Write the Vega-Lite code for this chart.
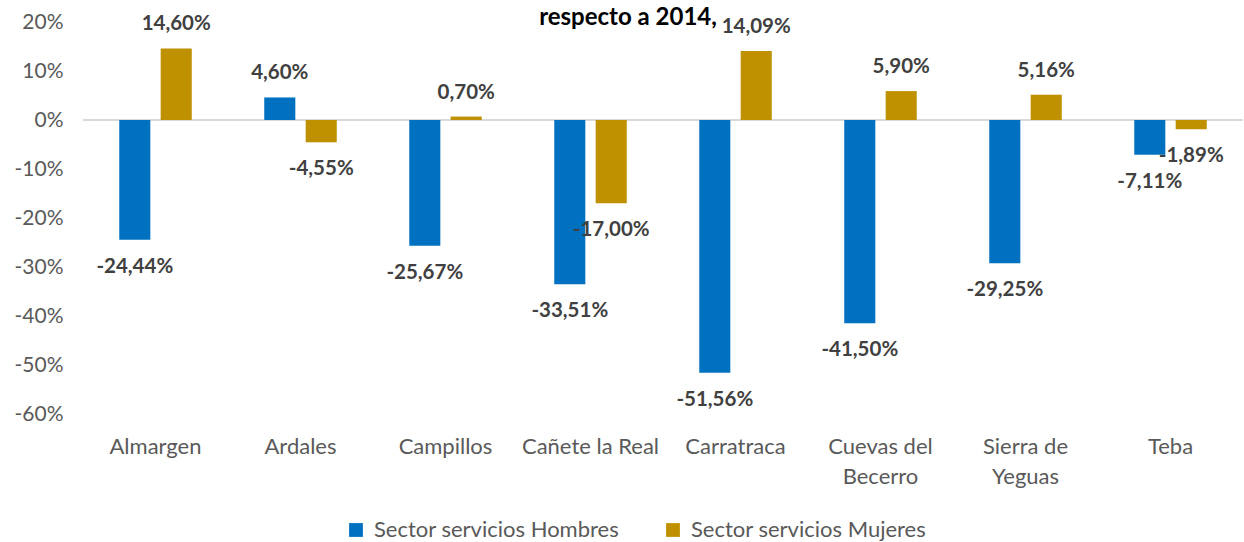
{
  "$schema": "https://vega.github.io/schema/vega-lite/v6.json",
  "autosize": "none",
  "width": 1160,
  "height": 392,
  "padding": {"left": 83, "top": 22, "right": 1, "bottom": 128},
  "background": "white",
  "title": {"text": "respecto a 2014,", "anchor": "middle", "dx": -35, "offset": -19, "fontSize": 24, "font": "Lato", "fontWeight": "bold", "color": "#000000"},
  "config": {
    "locale": {"number": {"decimal": ",", "thousands": ".", "grouping": [3], "currency": ["", " €"], "minus": "-"}},
    "view": {"stroke": null},
    "font": "Lato"
  },
  "data": {"values": [
    {"municipio": "Almargen", "serie": "Sector servicios Hombres", "valor": -0.2444},
    {"municipio": "Almargen", "serie": "Sector servicios Mujeres", "valor": 0.1460},
    {"municipio": "Ardales", "serie": "Sector servicios Hombres", "valor": 0.0460},
    {"municipio": "Ardales", "serie": "Sector servicios Mujeres", "valor": -0.0455},
    {"municipio": "Campillos", "serie": "Sector servicios Hombres", "valor": -0.2567},
    {"municipio": "Campillos", "serie": "Sector servicios Mujeres", "valor": 0.0070},
    {"municipio": "Cañete la Real", "serie": "Sector servicios Hombres", "valor": -0.3351},
    {"municipio": "Cañete la Real", "serie": "Sector servicios Mujeres", "valor": -0.1700},
    {"municipio": "Carratraca", "serie": "Sector servicios Hombres", "valor": -0.5156},
    {"municipio": "Carratraca", "serie": "Sector servicios Mujeres", "valor": 0.1409},
    {"municipio": "Cuevas del Becerro", "serie": "Sector servicios Hombres", "valor": -0.4150},
    {"municipio": "Cuevas del Becerro", "serie": "Sector servicios Mujeres", "valor": 0.0590},
    {"municipio": "Sierra de Yeguas", "serie": "Sector servicios Hombres", "valor": -0.2925},
    {"municipio": "Sierra de Yeguas", "serie": "Sector servicios Mujeres", "valor": 0.0516},
    {"municipio": "Teba", "serie": "Sector servicios Hombres", "valor": -0.0711},
    {"municipio": "Teba", "serie": "Sector servicios Mujeres", "valor": -0.0189}
  ]},
  "encoding": {
    "x": {"field": "municipio", "type": "nominal", "sort": null,
      "scale": {"paddingInner": 0.5, "paddingOuter": 0.25},
      "axis": {"title": null, "labelAngle": 0, "ticks": false, "domain": false, "labelFontSize": 22, "labelColor": "#595959", "labelPadding": 32, "labelLineHeight": 30, "labelBaseline": "middle",
        "labelExpr": "datum.label == 'Cuevas del Becerro' ? ['Cuevas del', 'Becerro'] : datum.label == 'Sierra de Yeguas' ? ['Sierra de', 'Yeguas'] : datum.label"}},
    "xOffset": {"field": "serie", "type": "nominal", "scale": {"paddingInner": 0.25, "paddingOuter": 0}},
    "y": {"field": "valor", "type": "quantitative",
      "scale": {"domain": [-0.6, 0.2], "nice": false, "zero": false},
      "axis": {"title": null, "format": ".0%", "values": [-0.6, -0.5, -0.4, -0.3, -0.2, -0.1, 0, 0.1, 0.2], "grid": false, "ticks": false, "domain": false, "labelFontSize": 21, "labelColor": "#595959", "labelPadding": 20}}
  },
  "layer": [
    {
      "mark": {"type": "rule", "color": "#d9d9d9", "strokeWidth": 2},
      "encoding": {"y": {"datum": 0}, "x": null, "xOffset": null}
    },
    {
      "mark": {"type": "bar"},
      "encoding": {
        "color": {"field": "serie", "type": "nominal",
          "scale": {"domain": ["Sector servicios Hombres", "Sector servicios Mujeres"], "range": ["#0070C0", "#BF9000"]},
          "legend": {"title": null, "orient": "none", "legendX": 262, "legendY": 497, "direction": "horizontal", "symbolType": "square", "symbolSize": 190, "symbolStrokeWidth": 0, "labelFontSize": 22, "labelColor": "#595959", "labelLimit": 0, "columnPadding": 42, "labelOffset": 7}}
      }
    },
    {
      "transform": [{"filter": "datum.valor >= 0"}],
      "mark": {"type": "text", "baseline": "middle", "dy": -24, "fontSize": 20.5, "fontWeight": "bold", "color": "#404040"},
      "encoding": {"text": {"field": "valor", "type": "quantitative", "format": ".2%"}}
    },
    {
      "transform": [{"filter": "datum.valor < 0"}],
      "mark": {"type": "text", "baseline": "middle", "dy": 27, "fontSize": 20.5, "fontWeight": "bold", "color": "#404040"},
      "encoding": {"text": {"field": "valor", "type": "quantitative", "format": ".2%"}}
    }
  ]
}
